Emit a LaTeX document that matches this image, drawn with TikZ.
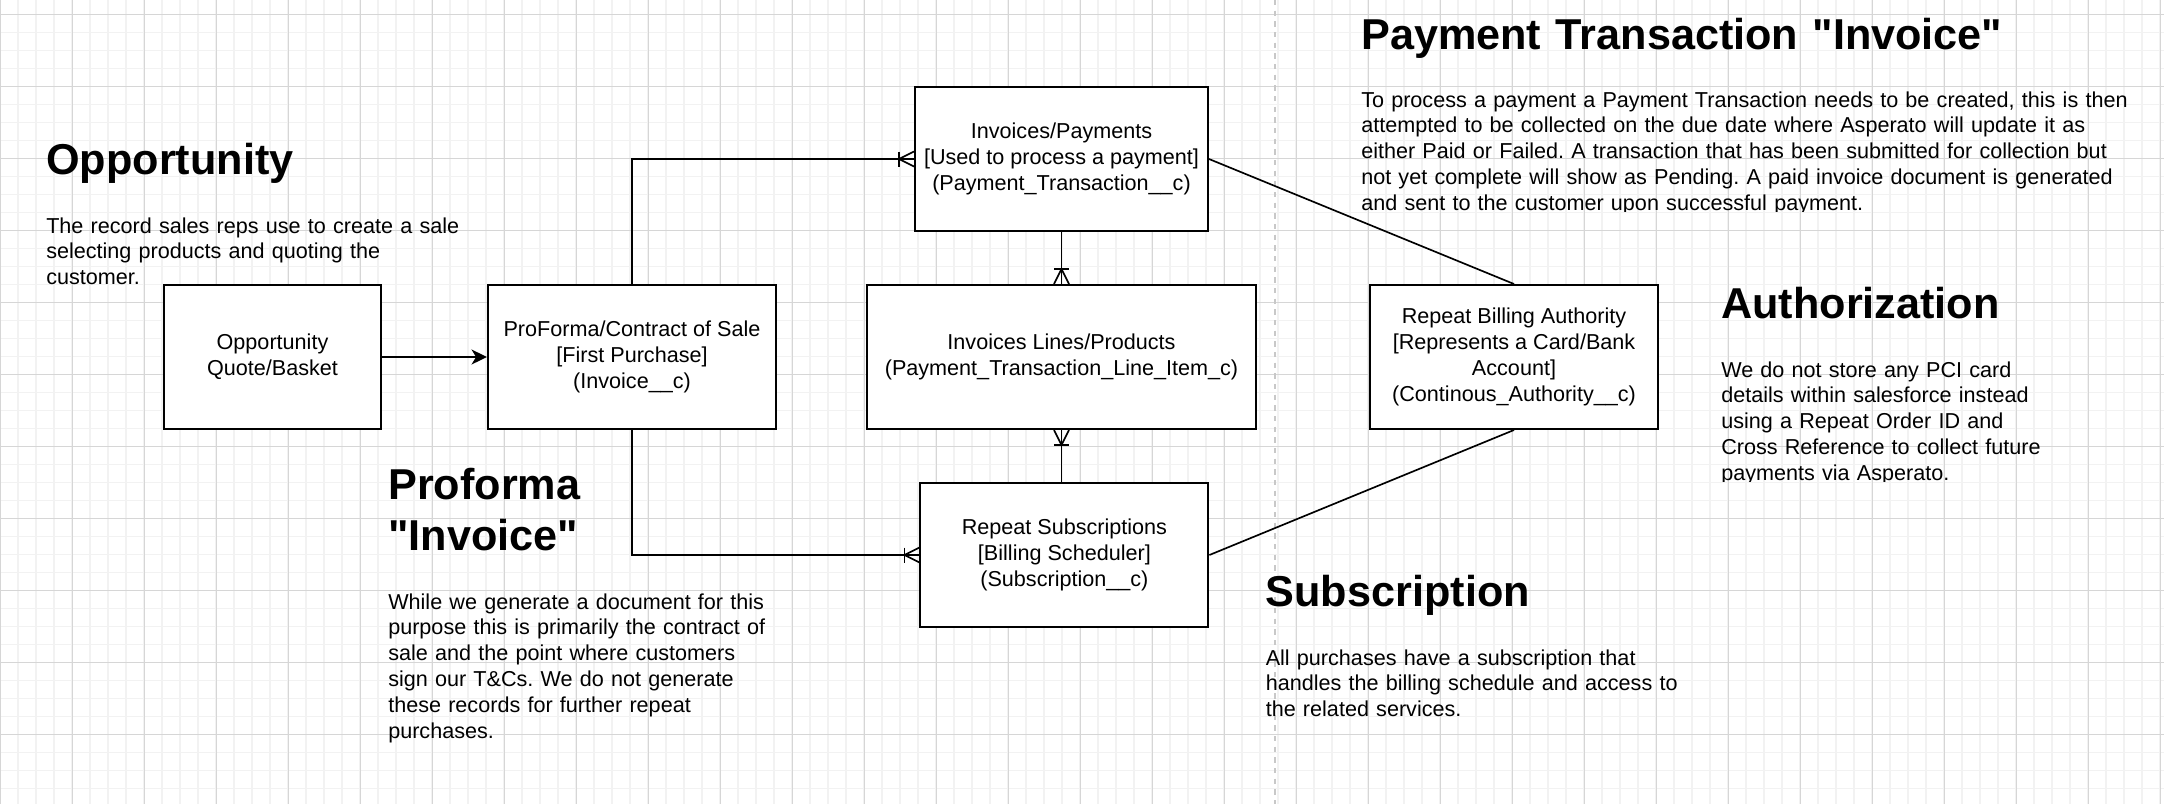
\documentclass[tikz,border=0pt]{standalone}
\usepackage{fontspec}
\setmainfont{Liberation Sans}
\usetikzlibrary{arrows.meta,calc}
\definecolor{gridminor}{RGB}{242,242,242}
\definecolor{gridmajor}{RGB}{214,214,214}
\definecolor{dashgray}{RGB}{200,200,200}
\newcommand{\myboxfont}{\fontsize{16.2}{19.44}\selectfont}
\newcommand{\myheadfont}{\fontsize{32.4}{38.25}\selectfont\bfseries}
\frenchspacing
\begin{document}
\begin{tikzpicture}[x=0.75pt,y=-0.75pt,
  entity/.style={draw=black,line width=1.5pt,fill=white,minimum height=108pt,inner sep=0pt,align=center,font=\myboxfont},
  conn/.style={draw=black,line width=1.25pt},
  heading/.style={anchor=base west,inner sep=0pt,text width=600pt,align=left,font=\myheadfont},
  body/.style={anchor=base west,inner sep=0pt,text width=700pt,align=left,font=\myboxfont},
  gminor/.style={draw=gridminor,line width=1.2pt},
  gmajor/.style={draw=gridmajor,line width=0.75pt}
]
\useasboundingbox (0,0) rectangle (2164,804);
\fill[white] (0,0) rectangle (2164,804);
% grid
\foreach \k in {0,...,120} \draw[gminor] (\k*18,0) -- (\k*18,804);
\foreach \k in {0,...,45} \draw[gminor] (0,\k*18-3.7) -- (2164,\k*18-3.7);
\foreach \k in {0,...,30} \draw[gmajor] (\k*72,0) -- (\k*72,804);
\foreach \k in {0,...,11} \draw[gmajor] (0,\k*72+14.3) -- (2164,\k*72+14.3);
% divider
\coordinate (divtop) at (1275,0);
\coordinate (divbot) at (1275,804);
\draw[dashgray,line width=1.1pt,dash pattern=on 4pt off 4pt] (divtop) -- (divbot);

% texts
\node[heading] (hopp) at (46,174) {Opportunity};
\node[body] (bopp) at (46,233) {The record sales reps use to create a sale\\selecting products and quoting the\\customer.};
\node[heading] (hpay) at (1361,49) {Payment Transaction \textquotedbl Invoice\textquotedbl};
\begin{scope}
\clip (1300,60) rectangle (2164,211);
\node[body] (bpay) at (1361,107) {To process a payment a Payment Transaction needs to be created, this is then\\attempted to be collected on the due date where Asperato will update it as\\either Paid or Failed. A transaction that has been submitted for collection but\\not yet complete will show as Pending. A paid invoice document is generated\\and sent to the customer upon successful payment.};
\end{scope}
\node[heading] (hauth) at (1721,318) {Authorization};
\begin{scope}
\clip (1700,330) rectangle (2164,481);
\node[body] (bauth) at (1721,377) {We do not store any PCI card\\details within salesforce instead\\using a Repeat Order ID and\\Cross Reference to collect future\\payments via Asperato.};
\end{scope}
\node[heading] (hpro) at (388,499) {Proforma\\\textquotedbl Invoice\textquotedbl};
\node[body] (bpro) at (388,609) {While we generate a document for this\\purpose this is primarily the contract of\\sale and the point where customers\\sign our T\&Cs. We do not generate\\these records for further repeat\\purchases.};
\node[heading] (hsub) at (1265.5,606) {Subscription};
\node[body] (bsub) at (1265.5,665) {All purchases have a subscription that\\handles the billing schedule and access to\\the related services.};

% entities
\node[entity,minimum width=162.75pt] (opp) at (272.5,357) {Opportunity\\Quote/Basket};
\node[entity,minimum width=216pt] (pf) at (632,357) {ProForma/Contract of Sale\\{}[First Purchase]\\(Invoice\_\_c)};
\node[entity,minimum width=219.75pt] (ip) at (1061.5,159) {Invoices/Payments\\{}[Used to process a payment]\\(Payment\_Transaction\_\_c)};
\node[entity,minimum width=291.75pt] (lines) at (1061.5,357) {Invoices Lines/Products\\(Payment\_Transaction\_Line\_Item\_c)};
\node[entity,minimum width=216pt] (rba) at (1514,357) {Repeat Billing Authority\\{}[Represents a Card/Bank\\Account]\\(Continous\_Authority\_\_c)};
\node[entity,minimum width=216pt] (subs) at (1064.4,555) {Repeat Subscriptions\\{}[Billing Scheduler]\\(Subscription\_\_c)};

% connectors
\draw[conn,-{Stealth[length=11.6pt,width=11.25pt,inset=3.4pt]}] (opp.east) -- (pf.west);
\draw[conn] (pf.north) |- (ip.west);
\draw[conn] (pf.south) |- (subs.west);
\draw[conn] (ip.south) -- (lines.north);
\draw[conn] (lines.south) -- (lines.south |- subs.north);
\draw[conn] (ip.east) -- (rba.north);
\draw[conn] (rba.south) -- (subs.east);

% crow's feet
\draw[conn] ($(ip.west)+(-15,-7.5)$) -- ($(ip.west)+(-15,7.5)$);
\draw[conn] ($(ip.west)+(0,-7.5)$) -- ($(ip.west)+(-15,0)$) -- ($(ip.west)+(0,7.5)$);
\draw[conn] ($(subs.west)+(-15,-7.5)$) -- ($(subs.west)+(-15,7.5)$);
\draw[conn] ($(subs.west)+(0,-7.5)$) -- ($(subs.west)+(-15,0)$) -- ($(subs.west)+(0,7.5)$);
\draw[conn] ($(lines.north)+(-7.5,-15)$) -- ($(lines.north)+(7.5,-15)$);
\draw[conn] ($(lines.north)+(-7.5,0)$) -- ($(lines.north)+(0,-15)$) -- ($(lines.north)+(7.5,0)$);
\draw[conn] ($(lines.south)+(-7.5,15)$) -- ($(lines.south)+(7.5,15)$);
\draw[conn] ($(lines.south)+(-7.5,0)$) -- ($(lines.south)+(0,15)$) -- ($(lines.south)+(7.5,0)$);
\end{tikzpicture}
\end{document}
